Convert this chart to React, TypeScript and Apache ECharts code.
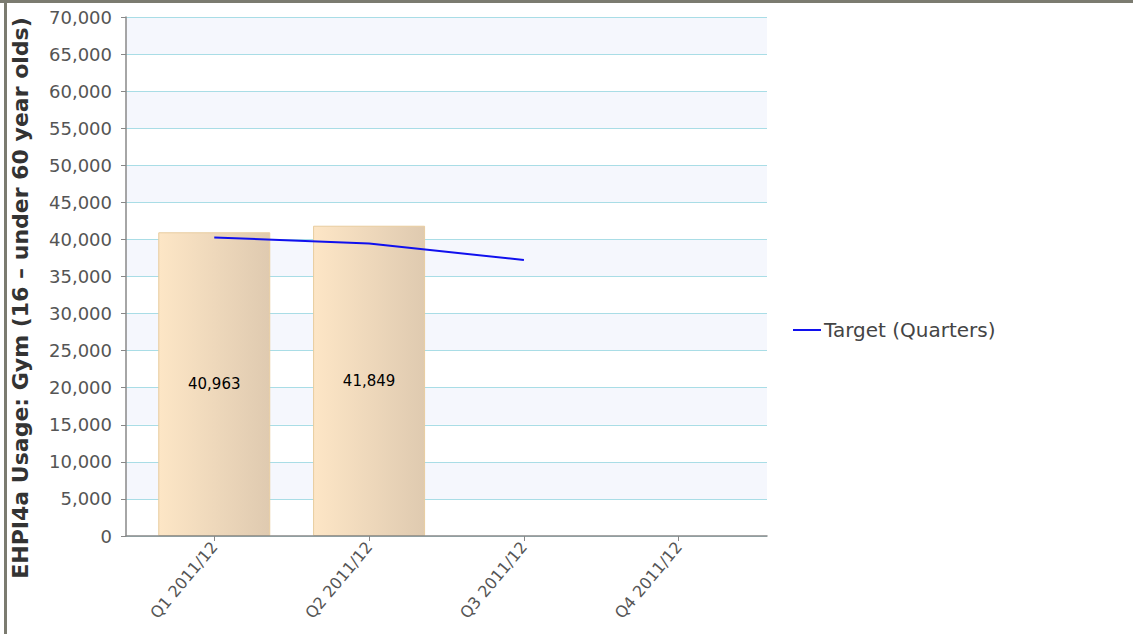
import React, { useEffect, useRef } from "react";
import * as echarts from "echarts";

const categories = ["Q1 2011/12", "Q2 2011/12", "Q3 2011/12", "Q4 2011/12"];
const actualValues = [40963, 41849];
const targetValues = [40270, 39450, 37220];
const yTicks = { min: 0, max: 70000, interval: 5000 };
const yTitle = "EHPI4a Usage: Gym (16 \u2013 under 60 year olds)";
const targetName = "Target (Quarters)";

export default function App() {
  const ref = useRef<HTMLDivElement>(null);
  useEffect(() => {
    if (!ref.current) return;
    const chart = echarts.init(ref.current, null, { renderer: "svg" });
    const font = "DejaVu Sans";
    chart.setOption({
      animation: false,
      backgroundColor: "#ffffff",
      grid: { left: 126, right: 366, top: 17, bottom: 98, containLabel: false },
      legend: {
        data: [targetName],
        orient: "vertical",
        left: 788,
        top: 315,
        icon: "rect",
        itemWidth: 28,
        itemHeight: 2,
        itemGap: 4,
        textStyle: { color: "#444", fontFamily: font, fontSize: 20, padding: [0, 0, 0, -2] },
      },
      xAxis: {
        type: "value",
        min: -0.57,
        max: 3.57,
        z: 4,
        axisLine: { show: true, onZero: false, lineStyle: { color: "#888", width: 1.5 } },
        axisTick: {
          show: true,
          customValues: categories.map((_, i) => i),
          length: 5,
          lineStyle: { color: "#888" },
        },
        axisLabel: {
          customValues: categories.map((_, i) => i),
          formatter: (v: number) => categories[Math.round(v)] ?? "",
          rotate: 50,
          color: "#555",
          fontFamily: font,
          fontSize: 16,
          margin: 8,
        },
        splitLine: { show: false },
      },
      yAxis: [
        {
          type: "value",
          min: yTicks.min,
          max: yTicks.max,
          interval: yTicks.interval,
          z: 1,
          axisLine: { show: true, onZero: false, lineStyle: { color: "#888", width: 1.5 } },
          axisTick: { show: true, length: 5, lineStyle: { color: "#888" } },
          axisLabel: {
            color: "#555",
            fontFamily: font,
            fontSize: 18,
            margin: 14,
            formatter: (v: number) => v.toLocaleString("en-US"),
          },
          splitLine: { show: true, lineStyle: { color: "#a9dde6", width: 1 } },
          splitArea: { show: false },
        },
        {
          type: "value",
          position: "left",
          min: yTicks.min,
          max: yTicks.max,
          interval: yTicks.interval,
          z: 0,
          axisLine: { show: false },
          axisTick: { show: false },
          axisLabel: { show: false },
          splitLine: { show: false },
          splitArea: { show: true, areaStyle: { color: ["#ffffff", "#f5f7fd"] } },
        },
      ],
      series: [
        {
          type: "bar",
          name: "Actual",
          data: actualValues.map((v, i) => [i, v]),
          barWidth: 112,
          itemStyle: {
            color: new echarts.graphic.LinearGradient(0, 0, 1, 0, [
              { offset: 0, color: "#fde6c6" },
              { offset: 1, color: "#dfcab0" },
            ]),
            borderColor: "#e8cc9f",
            borderWidth: 1,
          },
          label: {
            show: true,
            position: "inside",
            color: "#000",
            fontFamily: font,
            fontSize: 15,
            formatter: (p: any) => Number(p.value[1]).toLocaleString("en-US"),
          },
          z: 2,
        },
        {
          type: "line",
          name: targetName,
          data: targetValues.map((v, i) => [i, v]),
          showSymbol: false,
          symbol: "none",
          lineStyle: { color: "#1010ee", width: 2 },
          itemStyle: { color: "#1010ee" },
          z: 3,
        },
      ],
      graphic: [
        { type: "rect", left: 0, top: 0, shape: { width: 1133, height: 3 }, style: { fill: "#7b7b70" } },
        { type: "rect", left: 4, top: 0, shape: { width: 3, height: 634 }, style: { fill: "#7b7b70" } },
        {
          type: "text",
          x: 20,
          y: 298,
          rotation: Math.PI / 2,
          style: {
            text: yTitle,
            align: "center",
            verticalAlign: "middle",
            fill: "#333",
            font: "bold 22px 'DejaVu Sans'",
          },
        },
      ],
    });
    return () => chart.dispose();
  }, []);
  return (
    <div
      ref={ref}
      style={{ position: "fixed", left: 0, top: 0, width: 1133, height: 634 }}
    />
  );
}
